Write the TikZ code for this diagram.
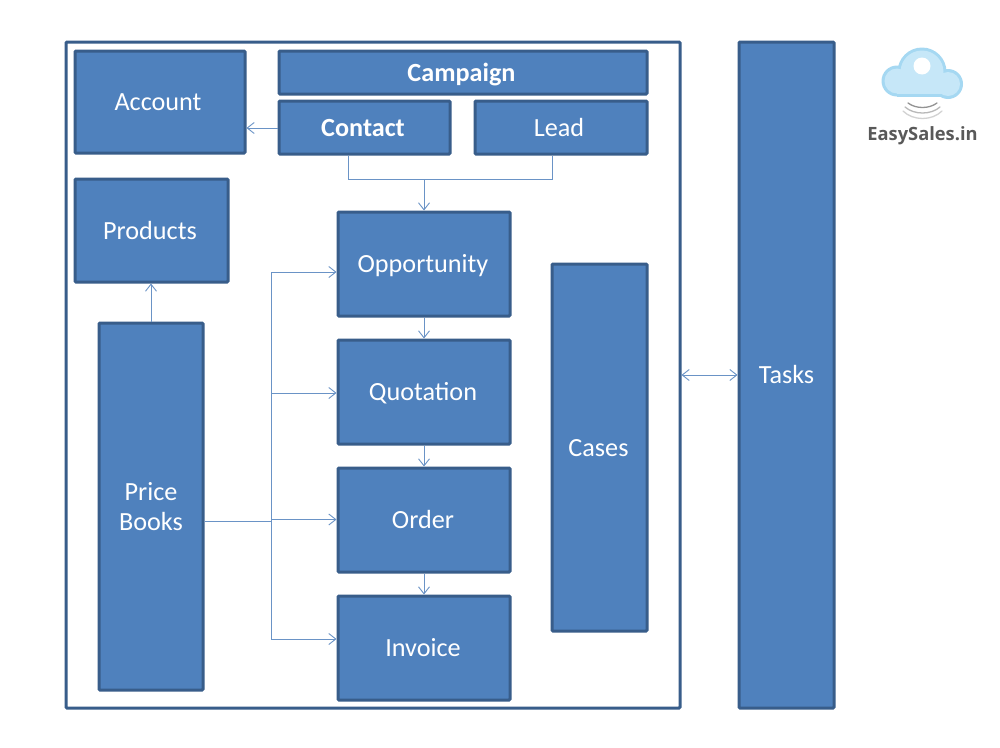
\documentclass[tikz,border=0pt]{standalone}
\usepackage{fontspec}
\setmainfont{Carlito}
\newfontfamily\logofont{Open Sans}
\usetikzlibrary{arrows.meta}
\definecolor{boxfill}{HTML}{4F81BD}
\definecolor{boxline}{HTML}{385D8A}
\definecolor{conn}{HTML}{6A93C6}
\definecolor{cloudout}{HTML}{A5D8F2}
\definecolor{cloudin}{HTML}{C6E7F8}
\tikzset{
  box/.style={draw=boxline,fill=boxfill,line width=3pt,rounded corners=1pt,text=white,
    font=\fontsize{26.2}{30}\selectfont,align=center,inner sep=0pt,text height=20pt,text depth=3pt},
  link/.style={draw=conn,line width=.9pt,-{Straight Barb[length=7pt,width=11pt,line width=.9pt]}},
  plainlink/.style={draw=conn,line width=.9pt},
  wave/.style={draw=#1,line width=1.3pt,line cap=round}
}
\begin{document}
\begin{tikzpicture}[x=1pt,y=-1pt]
\useasboundingbox (0,0) rectangle (1000,747);
\fill[white] (0,0) rectangle (1000,747);
% outer frame
\node[box,fill=white,minimum width=614pt,minimum height=666pt] (frame) at (373,375) {};
% boxes
\node[box,minimum width=170pt,minimum height=102pt] (account) at (160,102) {\hspace{-4pt}Account};
\node[box,minimum width=368pt,minimum height=43pt] (campaign) at (463,72.5) {\hspace{-3pt}\textbf{Campaign}};
\node[box,minimum width=171pt,minimum height=53pt] (contact) at (364.5,127.5) {\hspace{-3pt}\textbf{Contact}};
\node[box,minimum width=172pt,minimum height=53pt] (lead) at (561,127.5) {\hspace{-4pt}Lead};
\node[box,minimum width=153pt,minimum height=103pt] (products) at (151.5,230.5) {\hspace{-3pt}Products};
\node[box,text height=,text depth=,minimum width=104pt,minimum height=367pt] (price) at (151,506.5) {Price\\Books};
\node[box,minimum width=172pt,minimum height=104pt] (opp) at (424,264) {\hspace{-2pt}Opportunity};
\node[box,minimum width=172pt,minimum height=104pt] (quot) at (424,392) {\hspace{-2pt}Quotation};
\node[box,minimum width=172pt,minimum height=104pt] (order) at (424,520) {\hspace{-2pt}Order};
\node[box,minimum width=172pt,minimum height=104pt] (invoice) at (424,648) {\hspace{-2pt}Invoice};
\node[box,minimum width=95pt,minimum height=367pt] (cases) at (599.5,447.5) {\hspace{-2pt}Cases};
\node[box,minimum width=95pt,minimum height=666pt] (tasks) at (786.5,375) {Tasks};
% routing coordinates
\coordinate (busA) at (348,179);
\coordinate (busB) at (552,179);
\coordinate (busC) at (424,179);
\coordinate (trunk) at (271,521);
\coordinate (yOpp) at (271,272);
\coordinate (yQuot) at (271,393);
\coordinate (yOrder) at (271,519.5);
\coordinate (yInv) at (271,639);
\coordinate (yAcc) at (0,128);
\coordinate (yTask) at (0,375);
% connectors
\draw[link] (contact.west |- yAcc) -- (account.east |- yAcc);
\draw[plainlink] (contact.south -| busA) -- (busA) -- (busB) -- (lead.south -| busB);
\draw[link] (busC) -- (opp.north);
\draw[link] (opp.south) -- (quot.north);
\draw[link] (quot.south) -- (order.north);
\draw[link] (order.south) -- (invoice.north);
\draw[link] (price.north) -- (products.south -| price.north);
\draw[plainlink] (price.east |- trunk) -- (trunk);
\draw[link] (trunk) -- (yOpp) -- (opp.west |- yOpp);
\draw[link] (yQuot) -- (quot.west |- yQuot);
\draw[link] (yOrder) -- (order.west |- yOrder);
\draw[link] (trunk) -- (yInv) -- (invoice.west |- yInv);
\draw[draw=conn,line width=.9pt,{Straight Barb[length=7pt,width=11pt,line width=.9pt]}-{Straight Barb[length=7pt,width=11pt,line width=.9pt]}] (frame.east |- yTask) -- (tasks.west |- yTask);
% logo
\fill[cloudout] (897,81) circle (15.5);
\fill[cloudout] (922,72) circle (24.5);
\fill[cloudout] (948,84) circle (15);
\fill[cloudout] (897,81) rectangle (948,97);
\fill[cloudin] (897,81) circle (12.5);
\fill[cloudin] (922,72) circle (21.5);
\fill[cloudin] (948,84) circle (12);
\fill[cloudin] (897,81) rectangle (948,93.5);
\fill[white] (922,66) circle (8.5);
\draw[wave=gray!85] (908,103) .. controls (916,109) and (929,109) .. (937,103);
\draw[wave=gray!55] (905,107) .. controls (914,115) and (931,115) .. (940,107);
\draw[wave=gray!35] (903,111) .. controls (913,121) and (932,121) .. (942,111);
\node[text=black!65,inner sep=0pt,font=\logofont\bfseries\fontsize{18.3}{20}\selectfont] (logo) at (922.5,136) {EasySales.in};
\end{tikzpicture}
\end{document}
